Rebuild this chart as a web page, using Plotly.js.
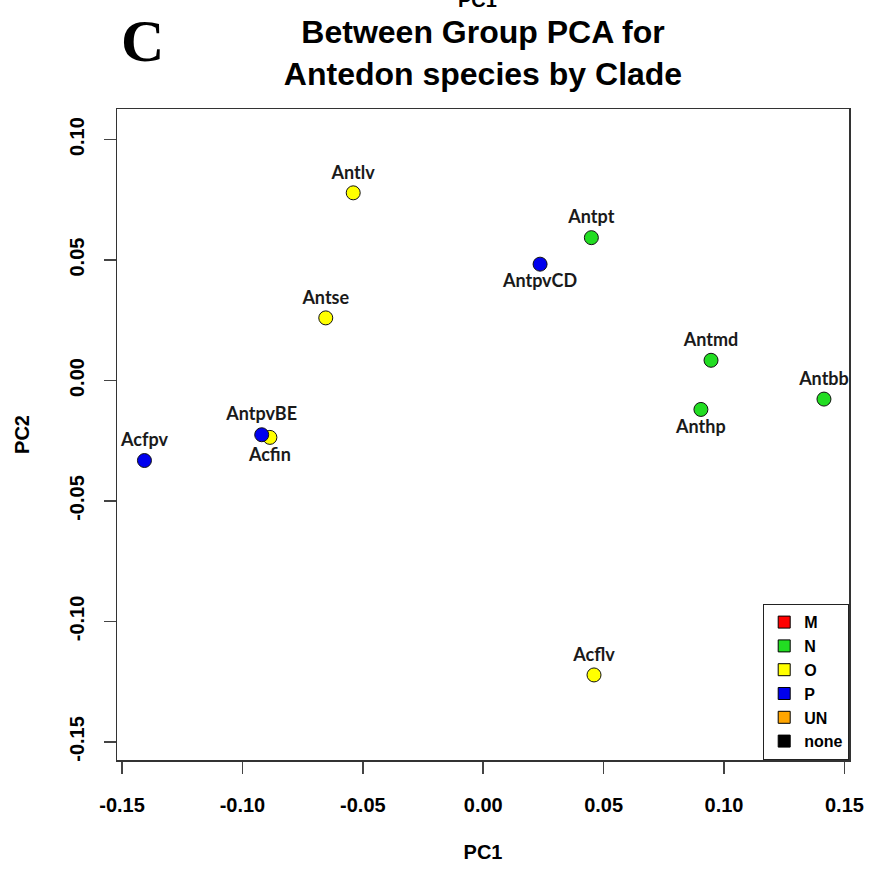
<!DOCTYPE html>
<html>
<head>
<meta charset="utf-8">
<script src="https://cdn.plot.ly/plotly-3.0.1.min.js"></script>
<style>html,body{margin:0;padding:0;background:#fff;}#chart{width:871px;height:869px;}</style>
</head>
<body>
<div id="chart"></div>
<script>
// Clade N (green)
const nNames = ['Antpt', 'Antmd', 'Antbb', 'Anthp'];
const nPC1 = [0.0449, 0.0946, 0.1415, 0.0904];
const nPC2 = [0.0593, 0.0084, -0.0077, -0.0120];
const nPos = ['top center', 'top center', 'top center', 'bottom center'];
// Clade O (yellow)
const oNames = ['Antlv', 'Antse', 'Acfin', 'Acflv'];
const oPC1 = [-0.0540, -0.0654, -0.0886, 0.0460];
const oPC2 = [0.0779, 0.0260, -0.0236, -0.1222];
const oPos = ['top center', 'top center', 'bottom center', 'top center'];
// Clade P (blue)
const pNames = ['AntpvCD', 'AntpvBE', 'Acfpv'];
const pPC1 = [0.0236, -0.0920, -0.1407];
const pPC2 = [0.0483, -0.0225, -0.0332];
const pPos = ['bottom center', 'top center', 'top center'];
// Legend
const legendLabels = ['M', 'N', 'O', 'P', 'UN', 'none'];
const legendColors = ['#FF0000', '#22DD22', '#FFFF00', '#0000EE', '#FFA500', '#000000'];
// Ticks
const xTickVals = [-0.15, -0.10, -0.05, 0.00, 0.05, 0.10, 0.15];
const xTickText = ['-0.15', '-0.10', '-0.05', '0.00', '0.05', '0.10', '0.15'];
const yTickVals = [-0.15, -0.10, -0.05, 0.00, 0.05, 0.10];
const yTickText = ['-0.15', '-0.10', '-0.05', '0.00', '0.05', '0.10'];

const labelFont = {family: 'Lato, "Open Sans", sans-serif', size: 18, color: '#1a1a1a', weight: 700};

function pointTrace(names, xs, ys, pos, color) {
  return {
    type: 'scatter', mode: 'markers+text', x: xs, y: ys, text: names,
    textposition: pos, textfont: labelFont, showlegend: false, cliponaxis: false,
    marker: {size: 14, color: color, line: {color: '#111', width: 1}},
    hoverinfo: 'text'
  };
}

const traces = [
  pointTrace(nNames, nPC1, nPC2, nPos, legendColors[1]),
  pointTrace(oNames, oPC1, oPC2, oPos, legendColors[2]),
  pointTrace(pNames, pPC1, pPC2, pPos, legendColors[3])
];
legendLabels.forEach((lab, i) => {
  traces.push({
    type: 'scatter', mode: 'markers', x: [null], y: [null], name: lab,
    marker: {symbol: 'square', size: 12, color: legendColors[i], line: {color: '#000', width: 1}},
    showlegend: true
  });
});

const axisFont = {family: '"Liberation Sans", Arial, sans-serif', size: 20, color: '#000', weight: 700};

const layout = {
  width: 871, height: 869,
  margin: {l: 117, r: 22, t: 109, b: 109},
  paper_bgcolor: '#fff', plot_bgcolor: '#fff',
  title: {
    text: 'Between Group PCA for<br>Antedon species by Clade',
    font: {family: '"Liberation Sans", Arial, sans-serif', size: 32, color: '#000', weight: 700},
    x: 0.5, xref: 'paper', y: 1 - 43 / 869, yref: 'container', yanchor: 'middle'
  },
  xaxis: {
    range: [-0.1521, 0.1519], autorange: false,
    tickvals: xTickVals, ticktext: xTickText, tickfont: axisFont,
    ticks: 'outside', ticklen: 12, tickwidth: 1.5, tickcolor: '#444',
    ticklabelstandoff: 14,
    showline: true, mirror: true, linecolor: '#333', linewidth: 1.5,
    showgrid: false, zeroline: false,
    title: {text: 'PC1', font: axisFont, standoff: 30}
  },
  yaxis: {
    range: [-0.1575, 0.1127], autorange: false,
    tickvals: yTickVals, ticktext: yTickText, tickfont: axisFont, tickangle: -90,
    ticks: 'outside', ticklen: 12, tickwidth: 1.5, tickcolor: '#444',
    ticklabelstandoff: 12,
    showline: true, mirror: true, linecolor: '#333', linewidth: 1.5,
    showgrid: false, zeroline: false,
    title: {text: 'PC2', font: axisFont, standoff: 30}
  },
  legend: {
    x: 1, xanchor: 'right', y: 0, yanchor: 'bottom',
    bgcolor: '#fff', bordercolor: '#222', borderwidth: 1.2,
    font: {family: '"Liberation Sans", Arial, sans-serif', size: 16, color: '#000', weight: 700},
    tracegroupgap: 0
  },
  annotations: [
    {text: 'C', xref: 'paper', yref: 'paper', x: (142 - 117) / 732, y: (760 - 41) / 651,
     xanchor: 'center', yanchor: 'middle', showarrow: false,
     font: {family: '"Liberation Serif", "Times New Roman", serif', size: 60, color: '#000', weight: 700}},
    {text: 'PC1', xref: 'paper', yref: 'paper', x: (477 - 117) / 732, y: (760 - 13) / 651,
     xanchor: 'center', yanchor: 'bottom', showarrow: false,
     font: {family: '"Liberation Sans", Arial, sans-serif', size: 20, color: '#000', weight: 700}}
  ],
  showlegend: true
};

Plotly.newPlot('chart', traces, layout, {displayModeBar: false, staticPlot: true});
</script>
</body>
</html>
